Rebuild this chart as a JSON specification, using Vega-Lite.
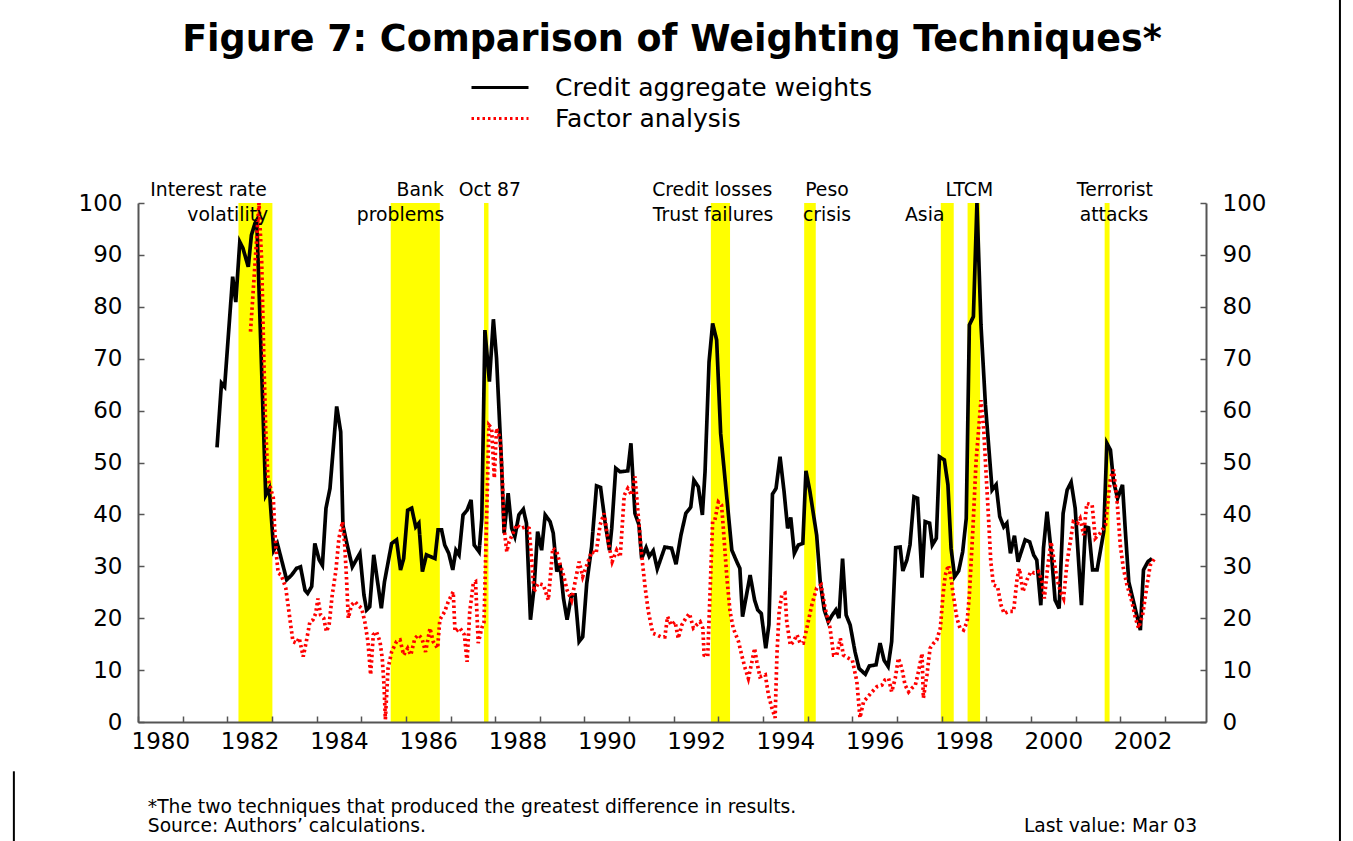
{
  "$schema": "https://vega.github.io/schema/vega-lite/v6.json",
  "width": 1068,
  "height": 519,
  "autosize": {"type": "none"},
  "padding": {"left": 138, "top": 203, "right": 147, "bottom": 119},
  "background": "white",
  "config": {"view": {"stroke": null}, "font": "DejaVu Sans"},
  "title": {"text": "Figure 7: Comparison of Weighting Techniques*", "font": "DejaVu Sans", "fontWeight": "bold", "fontSize": 36.5, "color": "black", "anchor": "middle", "frame": "group", "baseline": "alphabetic", "offset": 0, "dy": 89},
  "datasets": {
    "events": [
      {"start": 1982.25, "end": 1983.01},
      {"start": 1985.66, "end": 1986.76},
      {"start": 1987.75, "end": 1987.85},
      {"start": 1992.83, "end": 1993.26},
      {"start": 1994.92, "end": 1995.18},
      {"start": 1997.98, "end": 1998.27},
      {"start": 1998.58, "end": 1998.86},
      {"start": 2001.65, "end": 2001.76}
    ],
    "labels": [
      {"t": 1981.58, "v": 102.5, "text": "Interest rate"},
      {"t": 1982.01, "v": 97.6, "text": "volatility"},
      {"t": 1986.32, "v": 102.5, "text": "Bank"},
      {"t": 1985.88, "v": 97.6, "text": "problems"},
      {"t": 1987.88, "v": 102.5, "text": "Oct 87"},
      {"t": 1992.86, "v": 102.5, "text": "Credit losses"},
      {"t": 1992.88, "v": 97.6, "text": "Trust failures"},
      {"t": 1995.43, "v": 102.5, "text": "Peso"},
      {"t": 1995.43, "v": 97.6, "text": "crisis"},
      {"t": 1997.62, "v": 97.6, "text": "Asia"},
      {"t": 1998.62, "v": 102.5, "text": "LTCM"},
      {"t": 2001.88, "v": 102.5, "text": "Terrorist"},
      {"t": 2001.86, "v": 97.6, "text": "attacks"}
    ],
    "series": [
      {"t":1981.77,"v":52.9,"s":"Credit aggregate weights"},{"t":1981.87,"v":65.3,"s":"Credit aggregate weights"},{"t":1981.94,"v":64.6,"s":"Credit aggregate weights"},{"t":1982.12,"v":85.8,"s":"Credit aggregate weights"},{"t":1982.19,"v":80.9,"s":"Credit aggregate weights"},{"t":1982.28,"v":92.5,"s":"Credit aggregate weights"},{"t":1982.35,"v":91.3,"s":"Credit aggregate weights"},{"t":1982.47,"v":87.7,"s":"Credit aggregate weights"},{"t":1982.54,"v":93.8,"s":"Credit aggregate weights"},{"t":1982.62,"v":96.1,"s":"Credit aggregate weights"},{"t":1982.66,"v":96.7,"s":"Credit aggregate weights"},{"t":1982.86,"v":43.7,"s":"Credit aggregate weights"},{"t":1982.94,"v":45.0,"s":"Credit aggregate weights"},{"t":1983.04,"v":33.1,"s":"Credit aggregate weights"},{"t":1983.12,"v":34.4,"s":"Credit aggregate weights"},{"t":1983.33,"v":27.4,"s":"Credit aggregate weights"},{"t":1983.44,"v":28.3,"s":"Credit aggregate weights"},{"t":1983.55,"v":29.6,"s":"Credit aggregate weights"},{"t":1983.64,"v":29.9,"s":"Credit aggregate weights"},{"t":1983.74,"v":25.4,"s":"Credit aggregate weights"},{"t":1983.80,"v":24.8,"s":"Credit aggregate weights"},{"t":1983.89,"v":26.1,"s":"Credit aggregate weights"},{"t":1983.96,"v":34.4,"s":"Credit aggregate weights"},{"t":1984.06,"v":31.2,"s":"Credit aggregate weights"},{"t":1984.13,"v":30.2,"s":"Credit aggregate weights"},{"t":1984.21,"v":41.2,"s":"Credit aggregate weights"},{"t":1984.30,"v":45.0,"s":"Credit aggregate weights"},{"t":1984.45,"v":60.8,"s":"Credit aggregate weights"},{"t":1984.54,"v":55.9,"s":"Credit aggregate weights"},{"t":1984.59,"v":37.9,"s":"Credit aggregate weights"},{"t":1984.67,"v":34.7,"s":"Credit aggregate weights"},{"t":1984.80,"v":29.9,"s":"Credit aggregate weights"},{"t":1984.97,"v":32.5,"s":"Credit aggregate weights"},{"t":1985.06,"v":24.5,"s":"Credit aggregate weights"},{"t":1985.12,"v":21.6,"s":"Credit aggregate weights"},{"t":1985.19,"v":22.2,"s":"Credit aggregate weights"},{"t":1985.28,"v":32.2,"s":"Credit aggregate weights"},{"t":1985.45,"v":21.9,"s":"Credit aggregate weights"},{"t":1985.52,"v":27.0,"s":"Credit aggregate weights"},{"t":1985.68,"v":34.4,"s":"Credit aggregate weights"},{"t":1985.79,"v":35.1,"s":"Credit aggregate weights"},{"t":1985.88,"v":29.3,"s":"Credit aggregate weights"},{"t":1985.95,"v":31.5,"s":"Credit aggregate weights"},{"t":1986.04,"v":40.8,"s":"Credit aggregate weights"},{"t":1986.13,"v":41.2,"s":"Credit aggregate weights"},{"t":1986.22,"v":37.6,"s":"Credit aggregate weights"},{"t":1986.29,"v":38.3,"s":"Credit aggregate weights"},{"t":1986.37,"v":29.0,"s":"Credit aggregate weights"},{"t":1986.46,"v":32.2,"s":"Credit aggregate weights"},{"t":1986.65,"v":31.5,"s":"Credit aggregate weights"},{"t":1986.72,"v":37.0,"s":"Credit aggregate weights"},{"t":1986.80,"v":37.0,"s":"Credit aggregate weights"},{"t":1986.87,"v":34.1,"s":"Credit aggregate weights"},{"t":1986.96,"v":32.5,"s":"Credit aggregate weights"},{"t":1987.05,"v":29.3,"s":"Credit aggregate weights"},{"t":1987.12,"v":33.1,"s":"Credit aggregate weights"},{"t":1987.19,"v":32.2,"s":"Credit aggregate weights"},{"t":1987.28,"v":39.9,"s":"Credit aggregate weights"},{"t":1987.37,"v":40.8,"s":"Credit aggregate weights"},{"t":1987.46,"v":42.8,"s":"Credit aggregate weights"},{"t":1987.53,"v":34.1,"s":"Credit aggregate weights"},{"t":1987.64,"v":32.8,"s":"Credit aggregate weights"},{"t":1987.70,"v":39.2,"s":"Credit aggregate weights"},{"t":1987.77,"v":75.5,"s":"Credit aggregate weights"},{"t":1987.87,"v":65.6,"s":"Credit aggregate weights"},{"t":1987.96,"v":77.6,"s":"Credit aggregate weights"},{"t":1988.03,"v":70.1,"s":"Credit aggregate weights"},{"t":1988.14,"v":50.2,"s":"Credit aggregate weights"},{"t":1988.20,"v":36.4,"s":"Credit aggregate weights"},{"t":1988.29,"v":44.1,"s":"Credit aggregate weights"},{"t":1988.37,"v":37.3,"s":"Credit aggregate weights"},{"t":1988.44,"v":35.7,"s":"Credit aggregate weights"},{"t":1988.53,"v":39.9,"s":"Credit aggregate weights"},{"t":1988.63,"v":41.0,"s":"Credit aggregate weights"},{"t":1988.70,"v":38.3,"s":"Credit aggregate weights"},{"t":1988.79,"v":19.7,"s":"Credit aggregate weights"},{"t":1988.87,"v":25.8,"s":"Credit aggregate weights"},{"t":1988.95,"v":36.7,"s":"Credit aggregate weights"},{"t":1989.04,"v":33.1,"s":"Credit aggregate weights"},{"t":1989.12,"v":39.9,"s":"Credit aggregate weights"},{"t":1989.23,"v":38.6,"s":"Credit aggregate weights"},{"t":1989.30,"v":36.4,"s":"Credit aggregate weights"},{"t":1989.38,"v":29.0,"s":"Credit aggregate weights"},{"t":1989.45,"v":30.5,"s":"Credit aggregate weights"},{"t":1989.53,"v":23.8,"s":"Credit aggregate weights"},{"t":1989.61,"v":19.7,"s":"Credit aggregate weights"},{"t":1989.71,"v":24.5,"s":"Credit aggregate weights"},{"t":1989.79,"v":24.5,"s":"Credit aggregate weights"},{"t":1989.88,"v":15.5,"s":"Credit aggregate weights"},{"t":1989.96,"v":16.4,"s":"Credit aggregate weights"},{"t":1990.05,"v":26.7,"s":"Credit aggregate weights"},{"t":1990.16,"v":33.8,"s":"Credit aggregate weights"},{"t":1990.27,"v":45.5,"s":"Credit aggregate weights"},{"t":1990.36,"v":45.2,"s":"Credit aggregate weights"},{"t":1990.46,"v":38.6,"s":"Credit aggregate weights"},{"t":1990.56,"v":33.1,"s":"Credit aggregate weights"},{"t":1990.61,"v":37.3,"s":"Credit aggregate weights"},{"t":1990.70,"v":48.9,"s":"Credit aggregate weights"},{"t":1990.80,"v":48.2,"s":"Credit aggregate weights"},{"t":1990.97,"v":48.4,"s":"Credit aggregate weights"},{"t":1991.04,"v":53.7,"s":"Credit aggregate weights"},{"t":1991.13,"v":40.2,"s":"Credit aggregate weights"},{"t":1991.22,"v":38.0,"s":"Credit aggregate weights"},{"t":1991.28,"v":31.5,"s":"Credit aggregate weights"},{"t":1991.38,"v":33.6,"s":"Credit aggregate weights"},{"t":1991.45,"v":31.9,"s":"Credit aggregate weights"},{"t":1991.54,"v":33.0,"s":"Credit aggregate weights"},{"t":1991.63,"v":29.5,"s":"Credit aggregate weights"},{"t":1991.80,"v":33.7,"s":"Credit aggregate weights"},{"t":1991.95,"v":33.5,"s":"Credit aggregate weights"},{"t":1992.05,"v":30.4,"s":"Credit aggregate weights"},{"t":1992.16,"v":36.0,"s":"Credit aggregate weights"},{"t":1992.27,"v":40.2,"s":"Credit aggregate weights"},{"t":1992.38,"v":41.4,"s":"Credit aggregate weights"},{"t":1992.45,"v":46.6,"s":"Credit aggregate weights"},{"t":1992.55,"v":45.3,"s":"Credit aggregate weights"},{"t":1992.64,"v":39.9,"s":"Credit aggregate weights"},{"t":1992.70,"v":48.2,"s":"Credit aggregate weights"},{"t":1992.79,"v":69.4,"s":"Credit aggregate weights"},{"t":1992.87,"v":76.8,"s":"Credit aggregate weights"},{"t":1992.96,"v":73.6,"s":"Credit aggregate weights"},{"t":1993.05,"v":55.6,"s":"Credit aggregate weights"},{"t":1993.30,"v":33.1,"s":"Credit aggregate weights"},{"t":1993.41,"v":30.9,"s":"Credit aggregate weights"},{"t":1993.48,"v":29.6,"s":"Credit aggregate weights"},{"t":1993.54,"v":20.3,"s":"Credit aggregate weights"},{"t":1993.71,"v":28.3,"s":"Credit aggregate weights"},{"t":1993.81,"v":23.5,"s":"Credit aggregate weights"},{"t":1993.88,"v":21.6,"s":"Credit aggregate weights"},{"t":1993.96,"v":20.9,"s":"Credit aggregate weights"},{"t":1994.06,"v":14.2,"s":"Credit aggregate weights"},{"t":1994.13,"v":18.7,"s":"Credit aggregate weights"},{"t":1994.21,"v":43.9,"s":"Credit aggregate weights"},{"t":1994.29,"v":45.0,"s":"Credit aggregate weights"},{"t":1994.38,"v":51.1,"s":"Credit aggregate weights"},{"t":1994.47,"v":44.4,"s":"Credit aggregate weights"},{"t":1994.55,"v":37.3,"s":"Credit aggregate weights"},{"t":1994.62,"v":39.4,"s":"Credit aggregate weights"},{"t":1994.70,"v":32.5,"s":"Credit aggregate weights"},{"t":1994.79,"v":34.1,"s":"Credit aggregate weights"},{"t":1994.89,"v":34.4,"s":"Credit aggregate weights"},{"t":1994.96,"v":48.4,"s":"Credit aggregate weights"},{"t":1995.05,"v":44.4,"s":"Credit aggregate weights"},{"t":1995.13,"v":39.9,"s":"Credit aggregate weights"},{"t":1995.20,"v":36.0,"s":"Credit aggregate weights"},{"t":1995.28,"v":27.0,"s":"Credit aggregate weights"},{"t":1995.37,"v":21.6,"s":"Credit aggregate weights"},{"t":1995.46,"v":19.3,"s":"Credit aggregate weights"},{"t":1995.55,"v":20.6,"s":"Credit aggregate weights"},{"t":1995.63,"v":21.6,"s":"Credit aggregate weights"},{"t":1995.70,"v":20.0,"s":"Credit aggregate weights"},{"t":1995.78,"v":31.5,"s":"Credit aggregate weights"},{"t":1995.86,"v":20.6,"s":"Credit aggregate weights"},{"t":1995.95,"v":18.7,"s":"Credit aggregate weights"},{"t":1996.06,"v":13.5,"s":"Credit aggregate weights"},{"t":1996.15,"v":10.3,"s":"Credit aggregate weights"},{"t":1996.29,"v":9.2,"s":"Credit aggregate weights"},{"t":1996.38,"v":10.8,"s":"Credit aggregate weights"},{"t":1996.53,"v":11.0,"s":"Credit aggregate weights"},{"t":1996.62,"v":15.2,"s":"Credit aggregate weights"},{"t":1996.71,"v":11.9,"s":"Credit aggregate weights"},{"t":1996.80,"v":10.7,"s":"Credit aggregate weights"},{"t":1996.88,"v":15.5,"s":"Credit aggregate weights"},{"t":1996.97,"v":33.6,"s":"Credit aggregate weights"},{"t":1997.07,"v":33.7,"s":"Credit aggregate weights"},{"t":1997.13,"v":29.1,"s":"Credit aggregate weights"},{"t":1997.22,"v":31.2,"s":"Credit aggregate weights"},{"t":1997.29,"v":34.1,"s":"Credit aggregate weights"},{"t":1997.38,"v":43.4,"s":"Credit aggregate weights"},{"t":1997.46,"v":43.1,"s":"Credit aggregate weights"},{"t":1997.56,"v":27.8,"s":"Credit aggregate weights"},{"t":1997.63,"v":38.6,"s":"Credit aggregate weights"},{"t":1997.73,"v":38.3,"s":"Credit aggregate weights"},{"t":1997.79,"v":34.1,"s":"Credit aggregate weights"},{"t":1997.88,"v":35.4,"s":"Credit aggregate weights"},{"t":1997.95,"v":51.1,"s":"Credit aggregate weights"},{"t":1998.06,"v":50.5,"s":"Credit aggregate weights"},{"t":1998.14,"v":45.7,"s":"Credit aggregate weights"},{"t":1998.21,"v":33.5,"s":"Credit aggregate weights"},{"t":1998.29,"v":28.0,"s":"Credit aggregate weights"},{"t":1998.38,"v":29.1,"s":"Credit aggregate weights"},{"t":1998.47,"v":32.8,"s":"Credit aggregate weights"},{"t":1998.55,"v":39.2,"s":"Credit aggregate weights"},{"t":1998.62,"v":76.5,"s":"Credit aggregate weights"},{"t":1998.71,"v":78.1,"s":"Credit aggregate weights"},{"t":1998.79,"v":100,"s":"Credit aggregate weights"},{"t":1998.88,"v":76.5,"s":"Credit aggregate weights"},{"t":1998.98,"v":61.1,"s":"Credit aggregate weights"},{"t":1999.13,"v":44.7,"s":"Credit aggregate weights"},{"t":1999.22,"v":45.7,"s":"Credit aggregate weights"},{"t":1999.30,"v":39.6,"s":"Credit aggregate weights"},{"t":1999.39,"v":37.6,"s":"Credit aggregate weights"},{"t":1999.46,"v":38.3,"s":"Credit aggregate weights"},{"t":1999.54,"v":32.5,"s":"Credit aggregate weights"},{"t":1999.63,"v":35.9,"s":"Credit aggregate weights"},{"t":1999.71,"v":30.9,"s":"Credit aggregate weights"},{"t":1999.87,"v":35.1,"s":"Credit aggregate weights"},{"t":1999.97,"v":34.7,"s":"Credit aggregate weights"},{"t":2000.06,"v":32.2,"s":"Credit aggregate weights"},{"t":2000.13,"v":31.2,"s":"Credit aggregate weights"},{"t":2000.22,"v":22.5,"s":"Credit aggregate weights"},{"t":2000.28,"v":33.5,"s":"Credit aggregate weights"},{"t":2000.36,"v":40.5,"s":"Credit aggregate weights"},{"t":2000.46,"v":32.2,"s":"Credit aggregate weights"},{"t":2000.54,"v":23.5,"s":"Credit aggregate weights"},{"t":2000.63,"v":21.9,"s":"Credit aggregate weights"},{"t":2000.72,"v":40.2,"s":"Credit aggregate weights"},{"t":2000.81,"v":44.7,"s":"Credit aggregate weights"},{"t":2000.90,"v":46.2,"s":"Credit aggregate weights"},{"t":2000.99,"v":41.2,"s":"Credit aggregate weights"},{"t":2001.13,"v":22.5,"s":"Credit aggregate weights"},{"t":2001.22,"v":37.6,"s":"Credit aggregate weights"},{"t":2001.29,"v":37.4,"s":"Credit aggregate weights"},{"t":2001.38,"v":29.3,"s":"Credit aggregate weights"},{"t":2001.48,"v":29.3,"s":"Credit aggregate weights"},{"t":2001.63,"v":36.7,"s":"Credit aggregate weights"},{"t":2001.70,"v":53.7,"s":"Credit aggregate weights"},{"t":2001.78,"v":52.4,"s":"Credit aggregate weights"},{"t":2001.85,"v":46.3,"s":"Credit aggregate weights"},{"t":2001.94,"v":43.1,"s":"Credit aggregate weights"},{"t":2002.05,"v":45.7,"s":"Credit aggregate weights"},{"t":2002.11,"v":37.3,"s":"Credit aggregate weights"},{"t":2002.19,"v":27.0,"s":"Credit aggregate weights"},{"t":2002.45,"v":17.7,"s":"Credit aggregate weights"},{"t":2002.52,"v":29.3,"s":"Credit aggregate weights"},{"t":2002.62,"v":30.9,"s":"Credit aggregate weights"},{"t":2002.71,"v":31.5,"s":"Credit aggregate weights"},
      {"t":1982.52,"v":75.2,"s":"Factor analysis"},{"t":1982.71,"v":100,"s":"Factor analysis"},{"t":1982.77,"v":88.7,"s":"Factor analysis"},{"t":1982.82,"v":69.4,"s":"Factor analysis"},{"t":1982.86,"v":56.6,"s":"Factor analysis"},{"t":1982.91,"v":47,"s":"Factor analysis"},{"t":1982.97,"v":45,"s":"Factor analysis"},{"t":1983.03,"v":43.2,"s":"Factor analysis"},{"t":1983.06,"v":37.4,"s":"Factor analysis"},{"t":1983.10,"v":32.2,"s":"Factor analysis"},{"t":1983.14,"v":28.7,"s":"Factor analysis"},{"t":1983.21,"v":28.3,"s":"Factor analysis"},{"t":1983.31,"v":25.8,"s":"Factor analysis"},{"t":1983.40,"v":20.0,"s":"Factor analysis"},{"t":1983.47,"v":15.5,"s":"Factor analysis"},{"t":1983.55,"v":15.2,"s":"Factor analysis"},{"t":1983.61,"v":16.2,"s":"Factor analysis"},{"t":1983.70,"v":12.6,"s":"Factor analysis"},{"t":1983.77,"v":15.5,"s":"Factor analysis"},{"t":1983.85,"v":19.3,"s":"Factor analysis"},{"t":1983.92,"v":19.7,"s":"Factor analysis"},{"t":1983.98,"v":20.9,"s":"Factor analysis"},{"t":1984.03,"v":23.8,"s":"Factor analysis"},{"t":1984.09,"v":20.6,"s":"Factor analysis"},{"t":1984.16,"v":20.0,"s":"Factor analysis"},{"t":1984.22,"v":17.4,"s":"Factor analysis"},{"t":1984.28,"v":18.7,"s":"Factor analysis"},{"t":1984.35,"v":24.5,"s":"Factor analysis"},{"t":1984.43,"v":29.0,"s":"Factor analysis"},{"t":1984.50,"v":35.4,"s":"Factor analysis"},{"t":1984.58,"v":38.6,"s":"Factor analysis"},{"t":1984.63,"v":34.1,"s":"Factor analysis"},{"t":1984.67,"v":27.7,"s":"Factor analysis"},{"t":1984.71,"v":20.0,"s":"Factor analysis"},{"t":1984.78,"v":22.5,"s":"Factor analysis"},{"t":1984.86,"v":23.2,"s":"Factor analysis"},{"t":1984.93,"v":22.5,"s":"Factor analysis"},{"t":1985.01,"v":21.9,"s":"Factor analysis"},{"t":1985.08,"v":19.3,"s":"Factor analysis"},{"t":1985.15,"v":15.5,"s":"Factor analysis"},{"t":1985.21,"v":9.1,"s":"Factor analysis"},{"t":1985.27,"v":16.8,"s":"Factor analysis"},{"t":1985.34,"v":17.4,"s":"Factor analysis"},{"t":1985.42,"v":15.5,"s":"Factor analysis"},{"t":1985.47,"v":12.3,"s":"Factor analysis"},{"t":1985.51,"v":7.1,"s":"Factor analysis"},{"t":1985.54,"v":0.5,"s":"Factor analysis"},{"t":1985.60,"v":10.3,"s":"Factor analysis"},{"t":1985.68,"v":13.5,"s":"Factor analysis"},{"t":1985.79,"v":15.5,"s":"Factor analysis"},{"t":1985.87,"v":15.8,"s":"Factor analysis"},{"t":1985.95,"v":12.9,"s":"Factor analysis"},{"t":1986.04,"v":14.2,"s":"Factor analysis"},{"t":1986.11,"v":12.9,"s":"Factor analysis"},{"t":1986.20,"v":16.1,"s":"Factor analysis"},{"t":1986.28,"v":16.8,"s":"Factor analysis"},{"t":1986.36,"v":16.1,"s":"Factor analysis"},{"t":1986.44,"v":13.5,"s":"Factor analysis"},{"t":1986.54,"v":18.1,"s":"Factor analysis"},{"t":1986.61,"v":15.5,"s":"Factor analysis"},{"t":1986.71,"v":14.2,"s":"Factor analysis"},{"t":1986.76,"v":19.7,"s":"Factor analysis"},{"t":1986.87,"v":21.3,"s":"Factor analysis"},{"t":1986.95,"v":23.2,"s":"Factor analysis"},{"t":1987.06,"v":25.1,"s":"Factor analysis"},{"t":1987.10,"v":17.4,"s":"Factor analysis"},{"t":1987.21,"v":18.1,"s":"Factor analysis"},{"t":1987.31,"v":16.8,"s":"Factor analysis"},{"t":1987.37,"v":11.6,"s":"Factor analysis"},{"t":1987.43,"v":21.3,"s":"Factor analysis"},{"t":1987.51,"v":26.7,"s":"Factor analysis"},{"t":1987.56,"v":27.0,"s":"Factor analysis"},{"t":1987.62,"v":15.2,"s":"Factor analysis"},{"t":1987.70,"v":18.1,"s":"Factor analysis"},{"t":1987.75,"v":19.3,"s":"Factor analysis"},{"t":1987.86,"v":57.2,"s":"Factor analysis"},{"t":1987.92,"v":56.6,"s":"Factor analysis"},{"t":1987.98,"v":47,"s":"Factor analysis"},{"t":1988.03,"v":56.6,"s":"Factor analysis"},{"t":1988.11,"v":54.7,"s":"Factor analysis"},{"t":1988.16,"v":47,"s":"Factor analysis"},{"t":1988.20,"v":37.3,"s":"Factor analysis"},{"t":1988.26,"v":32.8,"s":"Factor analysis"},{"t":1988.31,"v":34.7,"s":"Factor analysis"},{"t":1988.40,"v":36.4,"s":"Factor analysis"},{"t":1988.48,"v":38.0,"s":"Factor analysis"},{"t":1988.58,"v":37.3,"s":"Factor analysis"},{"t":1988.67,"v":37.6,"s":"Factor analysis"},{"t":1988.76,"v":37.3,"s":"Factor analysis"},{"t":1988.82,"v":30.9,"s":"Factor analysis"},{"t":1988.87,"v":25.1,"s":"Factor analysis"},{"t":1988.96,"v":26.7,"s":"Factor analysis"},{"t":1989.08,"v":26.4,"s":"Factor analysis"},{"t":1989.19,"v":23.5,"s":"Factor analysis"},{"t":1989.29,"v":33.5,"s":"Factor analysis"},{"t":1989.38,"v":32.8,"s":"Factor analysis"},{"t":1989.45,"v":30.5,"s":"Factor analysis"},{"t":1989.53,"v":28.3,"s":"Factor analysis"},{"t":1989.61,"v":25.4,"s":"Factor analysis"},{"t":1989.71,"v":23.5,"s":"Factor analysis"},{"t":1989.79,"v":27.0,"s":"Factor analysis"},{"t":1989.88,"v":30.9,"s":"Factor analysis"},{"t":1989.96,"v":28.0,"s":"Factor analysis"},{"t":1990.05,"v":30.2,"s":"Factor analysis"},{"t":1990.16,"v":32.8,"s":"Factor analysis"},{"t":1990.26,"v":32.5,"s":"Factor analysis"},{"t":1990.35,"v":38.0,"s":"Factor analysis"},{"t":1990.44,"v":40.2,"s":"Factor analysis"},{"t":1990.53,"v":34.7,"s":"Factor analysis"},{"t":1990.62,"v":30.9,"s":"Factor analysis"},{"t":1990.72,"v":33.1,"s":"Factor analysis"},{"t":1990.80,"v":31.8,"s":"Factor analysis"},{"t":1990.89,"v":43.7,"s":"Factor analysis"},{"t":1990.97,"v":45.0,"s":"Factor analysis"},{"t":1991.06,"v":43.7,"s":"Factor analysis"},{"t":1991.13,"v":47.3,"s":"Factor analysis"},{"t":1991.21,"v":39.2,"s":"Factor analysis"},{"t":1991.28,"v":32.2,"s":"Factor analysis"},{"t":1991.36,"v":25.8,"s":"Factor analysis"},{"t":1991.43,"v":21.3,"s":"Factor analysis"},{"t":1991.53,"v":17.1,"s":"Factor analysis"},{"t":1991.62,"v":16.8,"s":"Factor analysis"},{"t":1991.71,"v":16.4,"s":"Factor analysis"},{"t":1991.80,"v":16.4,"s":"Factor analysis"},{"t":1991.86,"v":20.3,"s":"Factor analysis"},{"t":1991.94,"v":18.7,"s":"Factor analysis"},{"t":1992.03,"v":19.3,"s":"Factor analysis"},{"t":1992.10,"v":16.1,"s":"Factor analysis"},{"t":1992.18,"v":18.7,"s":"Factor analysis"},{"t":1992.27,"v":20.0,"s":"Factor analysis"},{"t":1992.35,"v":20.9,"s":"Factor analysis"},{"t":1992.44,"v":18.1,"s":"Factor analysis"},{"t":1992.51,"v":18.7,"s":"Factor analysis"},{"t":1992.59,"v":19.3,"s":"Factor analysis"},{"t":1992.65,"v":18.1,"s":"Factor analysis"},{"t":1992.68,"v":12.9,"s":"Factor analysis"},{"t":1992.76,"v":12.6,"s":"Factor analysis"},{"t":1992.87,"v":38.6,"s":"Factor analysis"},{"t":1992.92,"v":38.9,"s":"Factor analysis"},{"t":1993.00,"v":42.4,"s":"Factor analysis"},{"t":1993.07,"v":41.8,"s":"Factor analysis"},{"t":1993.11,"v":37.3,"s":"Factor analysis"},{"t":1993.19,"v":27.7,"s":"Factor analysis"},{"t":1993.26,"v":21.3,"s":"Factor analysis"},{"t":1993.33,"v":18.1,"s":"Factor analysis"},{"t":1993.45,"v":15.5,"s":"Factor analysis"},{"t":1993.52,"v":12.9,"s":"Factor analysis"},{"t":1993.60,"v":10.3,"s":"Factor analysis"},{"t":1993.67,"v":8.4,"s":"Factor analysis"},{"t":1993.75,"v":11.6,"s":"Factor analysis"},{"t":1993.81,"v":14.2,"s":"Factor analysis"},{"t":1993.86,"v":11.6,"s":"Factor analysis"},{"t":1993.93,"v":8.7,"s":"Factor analysis"},{"t":1994.05,"v":9.1,"s":"Factor analysis"},{"t":1994.12,"v":5.2,"s":"Factor analysis"},{"t":1994.20,"v":2.6,"s":"Factor analysis"},{"t":1994.27,"v":0.8,"s":"Factor analysis"},{"t":1994.31,"v":12.9,"s":"Factor analysis"},{"t":1994.36,"v":21.3,"s":"Factor analysis"},{"t":1994.42,"v":24.5,"s":"Factor analysis"},{"t":1994.49,"v":24.8,"s":"Factor analysis"},{"t":1994.53,"v":19.3,"s":"Factor analysis"},{"t":1994.61,"v":14.8,"s":"Factor analysis"},{"t":1994.68,"v":15.5,"s":"Factor analysis"},{"t":1994.76,"v":16.8,"s":"Factor analysis"},{"t":1994.83,"v":15.2,"s":"Factor analysis"},{"t":1994.90,"v":15.2,"s":"Factor analysis"},{"t":1994.98,"v":18.1,"s":"Factor analysis"},{"t":1995.09,"v":22.5,"s":"Factor analysis"},{"t":1995.20,"v":25.8,"s":"Factor analysis"},{"t":1995.30,"v":26.4,"s":"Factor analysis"},{"t":1995.39,"v":21.9,"s":"Factor analysis"},{"t":1995.50,"v":18.1,"s":"Factor analysis"},{"t":1995.58,"v":12.9,"s":"Factor analysis"},{"t":1995.65,"v":12.9,"s":"Factor analysis"},{"t":1995.73,"v":16.1,"s":"Factor analysis"},{"t":1995.80,"v":12.9,"s":"Factor analysis"},{"t":1995.91,"v":12.3,"s":"Factor analysis"},{"t":1996.00,"v":11.9,"s":"Factor analysis"},{"t":1996.10,"v":7.8,"s":"Factor analysis"},{"t":1996.17,"v":0.8,"s":"Factor analysis"},{"t":1996.25,"v":3.9,"s":"Factor analysis"},{"t":1996.32,"v":4.6,"s":"Factor analysis"},{"t":1996.44,"v":5.8,"s":"Factor analysis"},{"t":1996.55,"v":6.8,"s":"Factor analysis"},{"t":1996.66,"v":7.1,"s":"Factor analysis"},{"t":1996.73,"v":8.1,"s":"Factor analysis"},{"t":1996.81,"v":8.4,"s":"Factor analysis"},{"t":1996.88,"v":5.8,"s":"Factor analysis"},{"t":1996.96,"v":8.4,"s":"Factor analysis"},{"t":1997.03,"v":12.3,"s":"Factor analysis"},{"t":1997.11,"v":10.3,"s":"Factor analysis"},{"t":1997.18,"v":7.1,"s":"Factor analysis"},{"t":1997.26,"v":5.8,"s":"Factor analysis"},{"t":1997.33,"v":6.5,"s":"Factor analysis"},{"t":1997.41,"v":7.1,"s":"Factor analysis"},{"t":1997.48,"v":9.7,"s":"Factor analysis"},{"t":1997.56,"v":13.2,"s":"Factor analysis"},{"t":1997.59,"v":4.6,"s":"Factor analysis"},{"t":1997.67,"v":9.1,"s":"Factor analysis"},{"t":1997.74,"v":14.2,"s":"Factor analysis"},{"t":1997.82,"v":15.2,"s":"Factor analysis"},{"t":1997.89,"v":15.8,"s":"Factor analysis"},{"t":1997.97,"v":18.1,"s":"Factor analysis"},{"t":1998.03,"v":24.5,"s":"Factor analysis"},{"t":1998.08,"v":28.3,"s":"Factor analysis"},{"t":1998.15,"v":30.2,"s":"Factor analysis"},{"t":1998.21,"v":27.7,"s":"Factor analysis"},{"t":1998.26,"v":24.5,"s":"Factor analysis"},{"t":1998.34,"v":20.0,"s":"Factor analysis"},{"t":1998.41,"v":18.1,"s":"Factor analysis"},{"t":1998.49,"v":17.7,"s":"Factor analysis"},{"t":1998.57,"v":19.3,"s":"Factor analysis"},{"t":1998.62,"v":24.5,"s":"Factor analysis"},{"t":1998.70,"v":37.3,"s":"Factor analysis"},{"t":1998.77,"v":50.2,"s":"Factor analysis"},{"t":1998.83,"v":56.6,"s":"Factor analysis"},{"t":1998.88,"v":62.0,"s":"Factor analysis"},{"t":1998.94,"v":56.6,"s":"Factor analysis"},{"t":1999.00,"v":47,"s":"Factor analysis"},{"t":1999.05,"v":39.2,"s":"Factor analysis"},{"t":1999.10,"v":30.9,"s":"Factor analysis"},{"t":1999.16,"v":26.4,"s":"Factor analysis"},{"t":1999.25,"v":26.1,"s":"Factor analysis"},{"t":1999.33,"v":22.5,"s":"Factor analysis"},{"t":1999.40,"v":20.9,"s":"Factor analysis"},{"t":1999.50,"v":21.3,"s":"Factor analysis"},{"t":1999.61,"v":21.3,"s":"Factor analysis"},{"t":1999.69,"v":27.7,"s":"Factor analysis"},{"t":1999.74,"v":29.6,"s":"Factor analysis"},{"t":1999.82,"v":25.1,"s":"Factor analysis"},{"t":1999.91,"v":27.4,"s":"Factor analysis"},{"t":2000.00,"v":29.0,"s":"Factor analysis"},{"t":2000.07,"v":28.7,"s":"Factor analysis"},{"t":2000.17,"v":29.0,"s":"Factor analysis"},{"t":2000.25,"v":27.0,"s":"Factor analysis"},{"t":2000.30,"v":23.8,"s":"Factor analysis"},{"t":2000.37,"v":29.6,"s":"Factor analysis"},{"t":2000.45,"v":34.7,"s":"Factor analysis"},{"t":2000.51,"v":31.5,"s":"Factor analysis"},{"t":2000.58,"v":27.7,"s":"Factor analysis"},{"t":2000.66,"v":25.1,"s":"Factor analysis"},{"t":2000.73,"v":23.8,"s":"Factor analysis"},{"t":2000.81,"v":30.9,"s":"Factor analysis"},{"t":2000.88,"v":34.7,"s":"Factor analysis"},{"t":2000.95,"v":38.6,"s":"Factor analysis"},{"t":2001.04,"v":38.3,"s":"Factor analysis"},{"t":2001.10,"v":39.2,"s":"Factor analysis"},{"t":2001.18,"v":36.0,"s":"Factor analysis"},{"t":2001.25,"v":42.1,"s":"Factor analysis"},{"t":2001.37,"v":41.8,"s":"Factor analysis"},{"t":2001.44,"v":35.4,"s":"Factor analysis"},{"t":2001.55,"v":36.4,"s":"Factor analysis"},{"t":2001.67,"v":38.0,"s":"Factor analysis"},{"t":2001.78,"v":47,"s":"Factor analysis"},{"t":2001.85,"v":48.6,"s":"Factor analysis"},{"t":2001.93,"v":42.4,"s":"Factor analysis"},{"t":2002.00,"v":34.1,"s":"Factor analysis"},{"t":2002.07,"v":29.6,"s":"Factor analysis"},{"t":2002.15,"v":26.4,"s":"Factor analysis"},{"t":2002.26,"v":23.2,"s":"Factor analysis"},{"t":2002.34,"v":20.0,"s":"Factor analysis"},{"t":2002.41,"v":18.1,"s":"Factor analysis"},{"t":2002.50,"v":20.6,"s":"Factor analysis"},{"t":2002.60,"v":26.4,"s":"Factor analysis"},{"t":2002.67,"v":30.2,"s":"Factor analysis"},{"t":2002.79,"v":31.8,"s":"Factor analysis"}
    ]
  },
  "layer": [
    {
      "data": {"name": "events"},
      "mark": {"type": "rect", "color": "#ffff00"},
      "encoding": {
        "x": {"field": "start", "type": "quantitative", "scale": {"domain": [1980, 2003.92], "nice": false, "zero": false}, "axis": null},
        "x2": {"field": "end"}
      }
    },
    {
      "data": {"name": "series"},
      "mark": {"type": "line", "strokeWidth": 3.7, "strokeCap": "butt", "strokeJoin": "miter"},
      "encoding": {
        "x": {"field": "t", "type": "quantitative", "scale": {"domain": [1980, 2003.92], "nice": false, "zero": false},
          "axis": {"title": null, "grid": false, "orient": "bottom",
            "values": [1980,1981,1982,1983,1984,1985,1986,1987,1988,1989,1990,1991,1992,1993,1994,1995,1996,1997,1998,1999,2000,2001,2002,2003],
            "labelExpr": "(datum.value % 2 == 0 && datum.value < 2003) ? '' + datum.value : ''",
            "labelOffset": 22.3,
            "tickSize": -6, "tickWidth": 1.5, "tickColor": "#555555",
            "domainColor": "#555555", "domainWidth": 2,
            "labelFont": "DejaVu Sans", "labelFontSize": 23, "labelColor": "black", "labelPadding": 14,
            "labelOverlap": false, "labelFlush": false, "labelBound": false, "zindex": 1}},
        "y": {"field": "v", "type": "quantitative", "scale": {"domain": [0, 100], "nice": false, "zero": true},
          "axis": {"title": null, "grid": false, "orient": "left", "values": [0,10,20,30,40,50,60,70,80,90,100],
            "tickSize": -6, "tickWidth": 1.5, "tickColor": "#555555", "domainColor": "#555555", "domainWidth": 2,
            "labelFont": "DejaVu Sans", "labelFontSize": 23, "labelColor": "black", "labelPadding": 22, "labelFlush": false, "labelOverlap": false, "zindex": 1}},
        "color": {"field": "s", "type": "nominal",
          "scale": {"domain": ["Credit aggregate weights", "Factor analysis"], "range": ["#000000", "#ff0000"]},
          "legend": {"orient": "none", "legendX": 332, "legendY": -131, "title": null, "symbolType": "stroke", "symbolSize": 3249, "symbolStrokeWidth": 3, "labelFont": "DejaVu Sans", "labelFontSize": 25, "labelColor": "black", "labelOffset": 25, "labelLimit": 0, "rowPadding": 0, "clipHeight": 31, "padding": 0}},
        "strokeDash": {"field": "s", "type": "nominal",
          "scale": {"domain": ["Credit aggregate weights", "Factor analysis"], "range": [[1, 0], [2.5, 3]]},
          "legend": {"orient": "none", "legendX": 332, "legendY": -131, "title": null, "symbolType": "stroke", "symbolSize": 3249, "symbolStrokeWidth": 3, "labelFont": "DejaVu Sans", "labelFontSize": 25, "labelColor": "black", "labelOffset": 25, "labelLimit": 0, "rowPadding": 0, "clipHeight": 31, "padding": 0}}
      }
    },
    {
      "data": {"name": "labels"},
      "mark": {"type": "text", "font": "DejaVu Sans", "fontSize": 18.8, "color": "black", "baseline": "middle", "align": "center"},
      "encoding": {
        "x": {"field": "t", "type": "quantitative", "axis": null},
        "y": {"field": "v", "type": "quantitative", "axis": null},
        "text": {"field": "text"}
      }
    },
    {
      "data": {"values": [{}]},
      "mark": {"type": "text", "font": "DejaVu Sans", "fontSize": 18.7, "color": "black", "baseline": "middle", "align": "left"},
      "encoding": {
        "x": {"datum": 1980.22, "type": "quantitative", "axis": null},
        "y": {"datum": -16.4, "type": "quantitative", "axis": null},
        "text": {"value": "*The two techniques that produced the greatest difference in results."}
      }
    },
    {
      "data": {"values": [{}]},
      "mark": {"type": "text", "font": "DejaVu Sans", "fontSize": 18.7, "color": "black", "baseline": "middle", "align": "left"},
      "encoding": {
        "x": {"datum": 1980.22, "type": "quantitative", "axis": null},
        "y": {"datum": -20.1, "type": "quantitative", "axis": null},
        "text": {"value": "Source: Authors’ calculations."}
      }
    },
    {
      "data": {"values": [{}]},
      "mark": {"type": "text", "font": "DejaVu Sans", "fontSize": 18.7, "color": "black", "baseline": "middle", "align": "right"},
      "encoding": {
        "x": {"datum": 2003.72, "type": "quantitative", "axis": null},
        "y": {"datum": -20.1, "type": "quantitative", "axis": null},
        "text": {"value": "Last value: Mar 03"}
      }
    },
    {
      "data": {"values": [{}]},
      "mark": {"type": "rule", "color": "black", "strokeWidth": 2, "clip": false},
      "encoding": {
        "x": {"datum": 2006.92, "type": "quantitative", "axis": null},
        "y": {"datum": 139.2, "type": "quantitative", "axis": null},
        "y2": {"datum": -23}
      }
    },
    {
      "data": {"values": [{}]},
      "mark": {"type": "rule", "color": "black", "strokeWidth": 2, "clip": false},
      "encoding": {
        "x": {"datum": 1977.22, "type": "quantitative", "axis": null},
        "y": {"datum": -9.5, "type": "quantitative", "axis": null},
        "y2": {"datum": -23}
      }
    },
    {
      "data": {"values": [{}]},
      "mark": {"type": "rule", "opacity": 0},
      "encoding": {
        "y": {"datum": 0, "type": "quantitative",
          "axis": {"title": null, "grid": false, "orient": "right", "values": [0,10,20,30,40,50,60,70,80,90,100],
            "tickSize": -6, "tickWidth": 1.5, "tickColor": "#555555", "domainColor": "#555555", "domainWidth": 2,
            "labelFont": "DejaVu Sans", "labelFontSize": 23, "labelColor": "black", "labelPadding": 22, "labelFlush": false, "labelOverlap": false, "zindex": 1}}
      }
    }
  ],
  "resolve": {"axis": {"x": "independent", "y": "independent"}}
}
